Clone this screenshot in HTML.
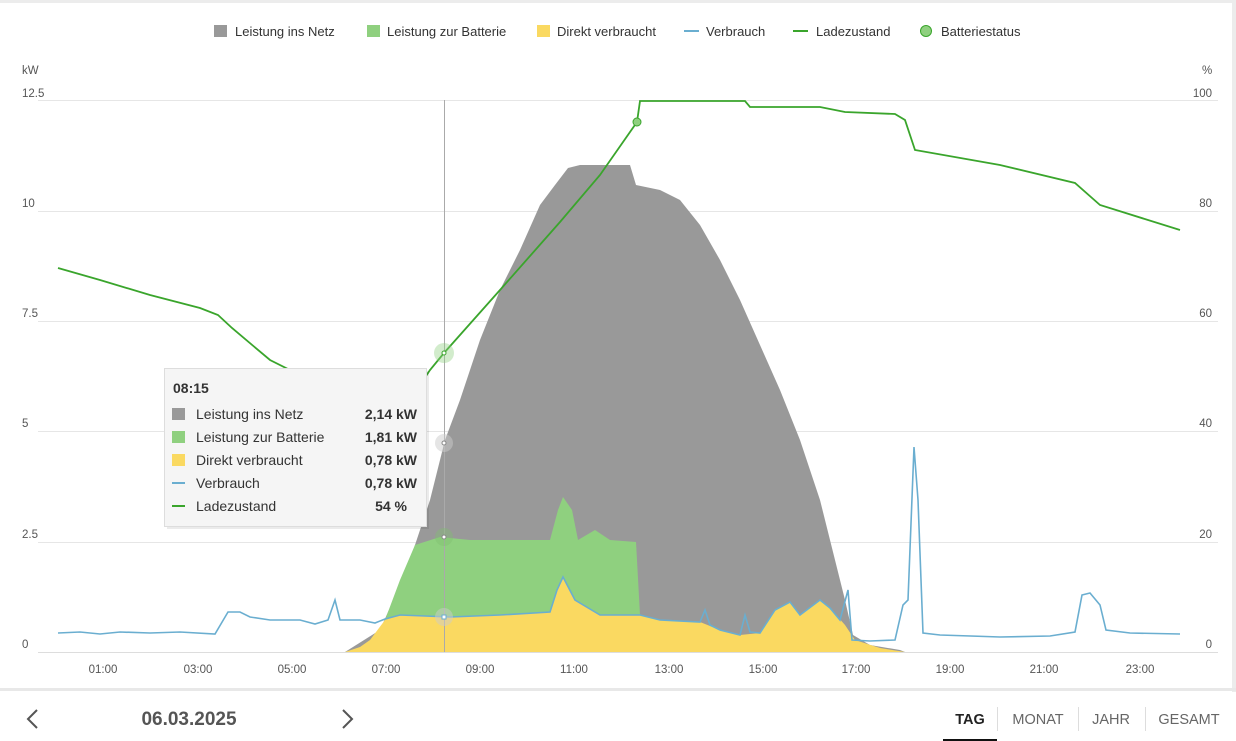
<!DOCTYPE html>
<html><head><meta charset="utf-8"><style>
body{margin:0;background:#fff;width:1236px;height:741px;overflow:hidden;font-family:"Liberation Sans",sans-serif;}
svg{position:absolute;left:0;top:0}
</style></head><body>
<svg width="1236" height="741" viewBox="0 0 1236 741" font-family="Liberation Sans, sans-serif">
<rect x="0" y="0" width="1236" height="3" fill="#ececec"/>
<rect x="1232" y="0" width="4" height="692" fill="#ececec"/>
<rect x="0" y="688" width="1236" height="3" fill="#e8e8e8"/>
<!-- legend -->
<g font-size="13" fill="#333">
<rect x="214" y="25" width="13" height="12" fill="#999"/><text x="235" y="36">Leistung ins Netz</text>
<rect x="367" y="25" width="13" height="12" fill="#8fd07f"/><text x="387" y="36">Leistung zur Batterie</text>
<rect x="537" y="25" width="13" height="12" fill="#fad961"/><text x="557" y="36">Direkt verbraucht</text>
<line x1="684" y1="31" x2="699" y2="31" stroke="#6aaed0" stroke-width="2"/><text x="706" y="36">Verbrauch</text>
<line x1="793" y1="31" x2="808" y2="31" stroke="#3aa52c" stroke-width="2"/><text x="816" y="36">Ladezustand</text>
<circle cx="926" cy="31" r="5.5" fill="#8fd07f" stroke="#3aa52c" stroke-width="1"/><text x="941" y="36">Batteriestatus</text>
</g>
<!-- axes labels -->
<g font-size="11.5" fill="#555">
<text x="22" y="74">kW</text><text x="1202" y="74">%</text>
<text x="22" y="97">12.5</text><text x="22" y="207">10</text><text x="22" y="317">7.5</text><text x="22" y="427">5</text><text x="22" y="538">2.5</text><text x="22" y="648">0</text>
<text x="1212" y="97" text-anchor="end">100</text><text x="1212" y="207" text-anchor="end">80</text><text x="1212" y="317" text-anchor="end">60</text><text x="1212" y="427" text-anchor="end">40</text><text x="1212" y="538" text-anchor="end">20</text><text x="1212" y="648" text-anchor="end">0</text>
</g>
<g stroke="#e6e6e6" stroke-width="1">
<line x1="38" y1="100.5" x2="1218" y2="100.5"/><line x1="38" y1="211.5" x2="1218" y2="211.5"/><line x1="38" y1="321.5" x2="1218" y2="321.5"/><line x1="38" y1="431.5" x2="1218" y2="431.5"/><line x1="38" y1="542.5" x2="1218" y2="542.5"/>
</g>
<line x1="38" y1="652.5" x2="1218" y2="652.5" stroke="#ddd"/>
<g font-size="11.5" fill="#555" text-anchor="middle">
<text x="103" y="673">01:00</text><text x="198" y="673">03:00</text><text x="292" y="673">05:00</text><text x="386" y="673">07:00</text><text x="480" y="673">09:00</text><text x="574" y="673">11:00</text><text x="669" y="673">13:00</text><text x="763" y="673">15:00</text><text x="856" y="673">17:00</text><text x="950" y="673">19:00</text><text x="1044" y="673">21:00</text><text x="1140" y="673">23:00</text>
</g>
<!-- gray area -->
<path fill="#999" d="M345,652 L380,630 L400,585 L415,545 L430,500 L445,440 L460,400 L480,340 L500,290 L520,250 L540,205 L555,185 L568,168 L580,165 L630,165 L636,185 L660,190 L680,200 L700,225 L720,260 L740,300 L760,345 L780,390 L800,440 L820,500 L835,560 L845,600 L853,635 L870,645 L900,650 L905,652 Z"/>
<!-- green area -->
<path fill="#8fd07f" d="M372,652 L385,620 L400,580 L415,545 L440,537 L470,540 L500,540 L550,540 L558,510 L563,497 L572,510 L578,540 L595,530 L610,540 L636,542 L640,615 L640,652 Z"/>
<!-- yellow area -->
<path fill="#fad961" d="M345,652 L360,647 L370,640 L385,620 L400,615 L450,617 L500,615 L550,612 L557,590 L563,577 L575,600 L600,615 L640,615 L660,620 L700,622 L720,630 L740,635 L760,633 L775,610 L790,602 L800,615 L820,600 L830,608 L845,625 L855,640 L880,648 L905,652 Z"/>
<!-- verbrauch -->
<polyline fill="none" stroke="#6aaed0" stroke-width="1.6" points="58,633 80,632 100,634 120,632 150,633 180,632 215,634 228,612 240,612 250,617 270,620 300,620 315,624 328,620 335,600 340,620 360,620 375,623 385,619 400,615 450,617 500,615 550,612 557,590 563,577 575,600 600,615 640,615 660,620 700,622 705,610 710,625 720,630 740,635 745,615 750,632 760,633 775,610 790,602 800,615 820,600 830,608 840,620 848,590 852,640 870,641 895,640 903,605 908,600 914,447 918,500 923,633 940,635 1000,637 1050,636 1075,632 1082,595 1090,593 1100,605 1106,630 1130,633 1180,634"/>
<!-- ladezustand -->
<polyline fill="none" stroke="#3aa52c" stroke-width="1.8" points="58,268 100,280 150,295 200,308 218,315 232,328 270,360 300,375 340,388 380,397 410,400 430,370 444,353 500,290 560,222 600,175 637,122 640,101 745,101 750,107 820,107 845,112 895,114 905,120 915,150 1000,165 1075,183 1100,205 1180,230"/>
<line x1="444.5" y1="100" x2="444.5" y2="652" stroke="#aaa"/>
<circle cx="444" cy="353" r="10" fill="#8fd07f" opacity="0.4"/><circle cx="444" cy="353" r="2" fill="#fff" stroke="#3aa52c"/>
<circle cx="444" cy="443" r="9" fill="#ccc" opacity="0.5"/><circle cx="444" cy="443" r="2" fill="#fff" stroke="#888"/>
<circle cx="444" cy="537" r="9" fill="#7fbf70" opacity="0.4"/><circle cx="444" cy="537" r="2" fill="#fff" stroke="#888"/>
<circle cx="444" cy="617" r="9" fill="#ccc" opacity="0.5"/><rect x="442" y="615" width="4" height="4" fill="#fff" stroke="#6aaed0"/>
<circle cx="637" cy="122" r="4" fill="#8fd07f" stroke="#3aa52c"/>
<!-- tooltip -->
<rect x="165" y="369" width="262" height="158" fill="#000" opacity="0.08" transform="translate(2,2)"/>
<rect x="164.5" y="368.5" width="262" height="158" fill="#f5f5f5" stroke="#ddd"/>
<g font-size="14" fill="#333">
<text x="173" y="393" font-weight="bold">08:15</text>
<rect x="172" y="408" width="13" height="12" fill="#999"/><text x="196" y="419">Leistung ins Netz</text><text x="417" y="419" text-anchor="end" font-weight="bold">2,14 kW</text>
<rect x="172" y="431" width="13" height="12" fill="#8fd07f"/><text x="196" y="442">Leistung zur Batterie</text><text x="417" y="442" text-anchor="end" font-weight="bold">1,81 kW</text>
<rect x="172" y="454" width="13" height="12" fill="#fad961"/><text x="196" y="465">Direkt verbraucht</text><text x="417" y="465" text-anchor="end" font-weight="bold">0,78 kW</text>
<line x1="172" y1="483" x2="185" y2="483" stroke="#6aaed0" stroke-width="2"/><text x="196" y="488">Verbrauch</text><text x="417" y="488" text-anchor="end" font-weight="bold">0,78 kW</text>
<line x1="172" y1="506" x2="185" y2="506" stroke="#3aa52c" stroke-width="2"/><text x="196" y="511">Ladezustand</text><text x="407" y="511" text-anchor="end" font-weight="bold">54 %</text>
</g>
<!-- bottom nav -->
<polyline points="37,710 28,719 37,728" fill="none" stroke="#555" stroke-width="2"/>
<polyline points="343,710 352,719 343,728" fill="none" stroke="#555" stroke-width="2"/>
<text x="189" y="725" font-size="19" font-weight="bold" fill="#555" text-anchor="middle">06.03.2025</text>
<g font-size="14.5" fill="#666" text-anchor="middle">
<text x="970" y="724" font-weight="bold" fill="#222">TAG</text>
<line x1="997.5" y1="707" x2="997.5" y2="731" stroke="#ddd"/>
<text x="1038" y="724">MONAT</text>
<line x1="1078.5" y1="707" x2="1078.5" y2="731" stroke="#ddd"/>
<text x="1111" y="724">JAHR</text>
<line x1="1145.5" y1="707" x2="1145.5" y2="731" stroke="#ddd"/>
<text x="1189" y="724">GESAMT</text>
</g>
<rect x="943" y="739" width="54" height="2" fill="#111"/>
</svg>
</body></html>
